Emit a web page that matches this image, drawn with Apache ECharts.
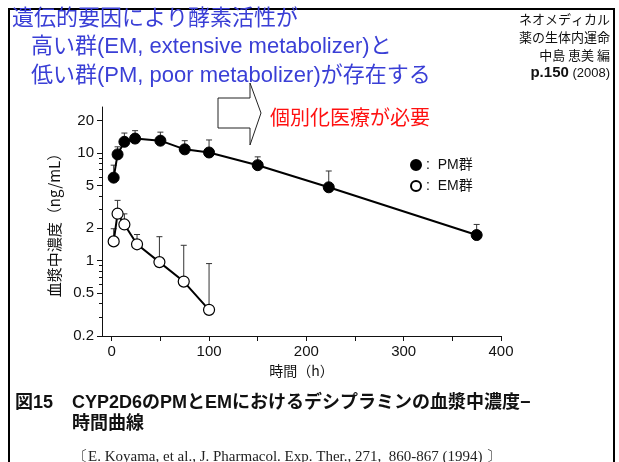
<!DOCTYPE html>
<html>
<head>
<meta charset="utf-8">
<script src="https://cdn.jsdelivr.net/npm/echarts@6/dist/echarts.min.js"></script>
<style>html,body{margin:0;padding:0;background:#fff;}#c{width:619px;height:462px;}</style>
</head>
<body>
<div id="c"></div>
<script>
// ---- data ----
const pmTime  = [2, 6, 13, 24, 50, 75, 100, 150, 223, 375];
const pmConc  = [5.9, 9.7, 12.7, 13.6, 13.0, 10.8, 10.1, 7.7, 4.8, 1.73];
const pmUpper = [7.7, 11.4, 15.3, 16.1, 15.6, 13.0, 13.2, 9.2, 6.8, 2.17];
const emTime  = [2, 6, 13, 26, 49, 74, 100];
const emConc  = [1.51, 2.73, 2.17, 1.42, 0.97, 0.64, 0.35];
const emUpper = [1.98, 3.63, 2.72, 1.75, 1.67, 1.39, 0.94];
const xTickLabels = [0, 100, 200, 300, 400];
const xTicks = [0, 50, 100, 150, 200, 250, 300, 350, 400];
const yTickLabels = [0.2, 0.5, 1, 2, 5, 10, 20];
const yMinorTicks = [0.3, 0.4, 0.6, 0.7, 0.8, 0.9, 3, 4, 6, 7, 8, 9];
const seriesNames = ['PM群', 'EM群'];

const JP = '"Noto Sans CJK JP", "Liberation Sans", sans-serif';
const MIX = '"Liberation Sans", "Noto Sans CJK JP", sans-serif';
const SANS = '"Liberation Sans", Arial, sans-serif';
const chart = echarts.init(document.getElementById('c'), null, {renderer: 'canvas'});

function errBar(params, api) {
  const x = api.value(0), y = api.value(1), hi = api.value(2);
  const p0 = api.coord([x, y]);
  const p1 = api.coord([x, hi]);
  const st = {stroke: '#333', lineWidth: 1};
  return {type: 'group', children: [
    {type: 'line', shape: {x1: p0[0], y1: p0[1], x2: p1[0], y2: p1[1]}, style: st},
    {type: 'line', shape: {x1: p1[0] - 3, y1: p1[1], x2: p1[0] + 3, y2: p1[1]}, style: st}
  ]};
}

const yCommon = {type: 'log', logBase: 10, min: 0.2, max: 26.7, position: 'left', offset: 0, splitLine: {show: false}};

chart.setOption({
  animation: false,
  backgroundColor: '#fff',
  grid: {left: 102, right: 118, top: 107, bottom: 126, containLabel: false},
  legend: {
    orient: 'vertical', left: 405, top: 153, itemGap: 7,
    icon: 'circle', itemWidth: 10, itemHeight: 10,
    data: seriesNames,
    formatter: ':  {name}',
    textStyle: {fontFamily: MIX, fontSize: 14, color: '#111'}
  },
  xAxis: {
    type: 'value', min: -10, max: 400,
    name: '時間（h）', nameLocation: 'middle', nameGap: 28,
    nameTextStyle: {fontFamily: JP, fontSize: 14, color: '#111'},
    axisLine: {show: true, onZero: false, lineStyle: {color: '#111', width: 1}},
    axisTick: {show: true, length: 5, customValues: xTicks, lineStyle: {color: '#111'}},
    axisLabel: {customValues: xTickLabels, fontFamily: SANS, fontSize: 15, color: '#111', margin: 8},
    splitLine: {show: false}
  },
  yAxis: [
    Object.assign({}, yCommon, {
      name: '血漿中濃度（ng/mL）', nameLocation: 'middle', nameGap: 38, nameRotate: 90,
      nameTextStyle: {fontFamily: JP, fontSize: 15, color: '#111'},
      axisLine: {show: true, onZero: false, lineStyle: {color: '#111', width: 1}},
      axisTick: {show: true, length: 5, customValues: yTickLabels, lineStyle: {color: '#111'}},
      axisLabel: {customValues: yTickLabels, fontFamily: SANS, fontSize: 15, color: '#111', margin: 8,
        formatter: v => String(v)}
    }),
    Object.assign({}, yCommon, {
      axisLine: {show: false, onZero: false},
      axisTick: {show: true, length: 3, customValues: yMinorTicks, lineStyle: {color: '#111'}},
      axisLabel: {show: false}
    })
  ],
  series: [
    {type: 'custom', name: 'pmErr', renderItem: errBar, z: 1, silent: true,
      data: pmTime.map((t, i) => [t, pmConc[i], pmUpper[i]])},
    {type: 'custom', name: 'emErr', renderItem: errBar, z: 1, silent: true,
      data: emTime.map((t, i) => [t, emConc[i], emUpper[i]])},
    {type: 'line', name: seriesNames[0], z: 3,
      data: pmTime.map((t, i) => [t, pmConc[i]]),
      symbol: 'circle', symbolSize: 11, showAllSymbol: true,
      lineStyle: {color: '#000', width: 2},
      itemStyle: {color: '#000', borderColor: '#000', borderWidth: 1}},
    {type: 'line', name: seriesNames[1], z: 3,
      data: emTime.map((t, i) => [t, emConc[i]]),
      symbol: 'circle', symbolSize: 11, showAllSymbol: true,
      lineStyle: {color: '#000', width: 2},
      itemStyle: {color: '#fff', borderColor: '#000', borderWidth: 1.2}}
  ],
  graphic: [
    {type: 'rect', shape: {x: 9, y: 9, width: 605, height: 470}, style: {fill: 'none', stroke: '#000', lineWidth: 2}, z: 10},
    {type: 'polygon', shape: {points: [[218, 98], [250, 98], [250, 83], [261, 113], [250, 145], [250, 128], [218, 128]]},
      style: {fill: '#fff', stroke: '#222', lineWidth: 1}, z: 5},
    {type: 'text', style: {x: 12, y: 19, text: '遺伝的要因により酵素活性が', font: '22px ' + MIX, fill: '#3a3fd6', textVerticalAlign: 'middle'}, z: 11},
    {type: 'text', style: {x: 31, y: 47, text: '高い群(EM, extensive metabolizer)と', font: '22px ' + MIX, fill: '#3a3fd6', textVerticalAlign: 'middle'}, z: 11},
    {type: 'text', style: {x: 31, y: 76, text: '低い群(PM, poor metabolizer)が存在する', font: '22px ' + MIX, fill: '#3a3fd6', textVerticalAlign: 'middle'}, z: 11},
    {type: 'text', style: {x: 270, y: 117, text: '個別化医療が必要', font: '20px ' + JP, fill: '#ff1010', textVerticalAlign: 'middle'}, z: 11},
    {type: 'text', style: {x: 610, y: 19, text: 'ネオメディカル', font: '13px ' + JP, fill: '#111', textAlign: 'right', textVerticalAlign: 'middle'}},
    {type: 'text', style: {x: 610, y: 37, text: '薬の生体内運命', font: '13px ' + JP, fill: '#111', textAlign: 'right', textVerticalAlign: 'middle'}},
    {type: 'text', style: {x: 610, y: 55, text: '中島 恵美 編', font: '13px ' + JP, fill: '#111', textAlign: 'right', textVerticalAlign: 'middle'}},
    {type: 'text', style: {x: 610, y: 73, text: '{b|p.150} (2008)', font: '13px ' + SANS, fill: '#111', textAlign: 'right', textVerticalAlign: 'middle',
      rich: {b: {fontWeight: 'bold', fontSize: 15, fontFamily: SANS}}}},
    {type: 'text', style: {x: 15, y: 403, text: '図15', font: 'bold 18px ' + MIX, fill: '#111', textVerticalAlign: 'middle'}},
    {type: 'text', style: {x: 72, y: 403, text: 'CYP2D6のPMとEMにおけるデシプラミンの血漿中濃度−', font: 'bold 18px ' + MIX, fill: '#111', textVerticalAlign: 'middle'}},
    {type: 'text', style: {x: 72, y: 424, text: '時間曲線', font: 'bold 18px ' + MIX, fill: '#111', textVerticalAlign: 'middle'}},
    {type: 'text', style: {x: 73, y: 457, text: '〔E. Koyama, et al., J. Pharmacol. Exp. Ther., 271,  860-867 (1994) 〕', font: '15px "Liberation Serif", "DejaVu Serif", serif', fill: '#222', textVerticalAlign: 'middle'}}
  ]
});
</script>
</body>
</html>
